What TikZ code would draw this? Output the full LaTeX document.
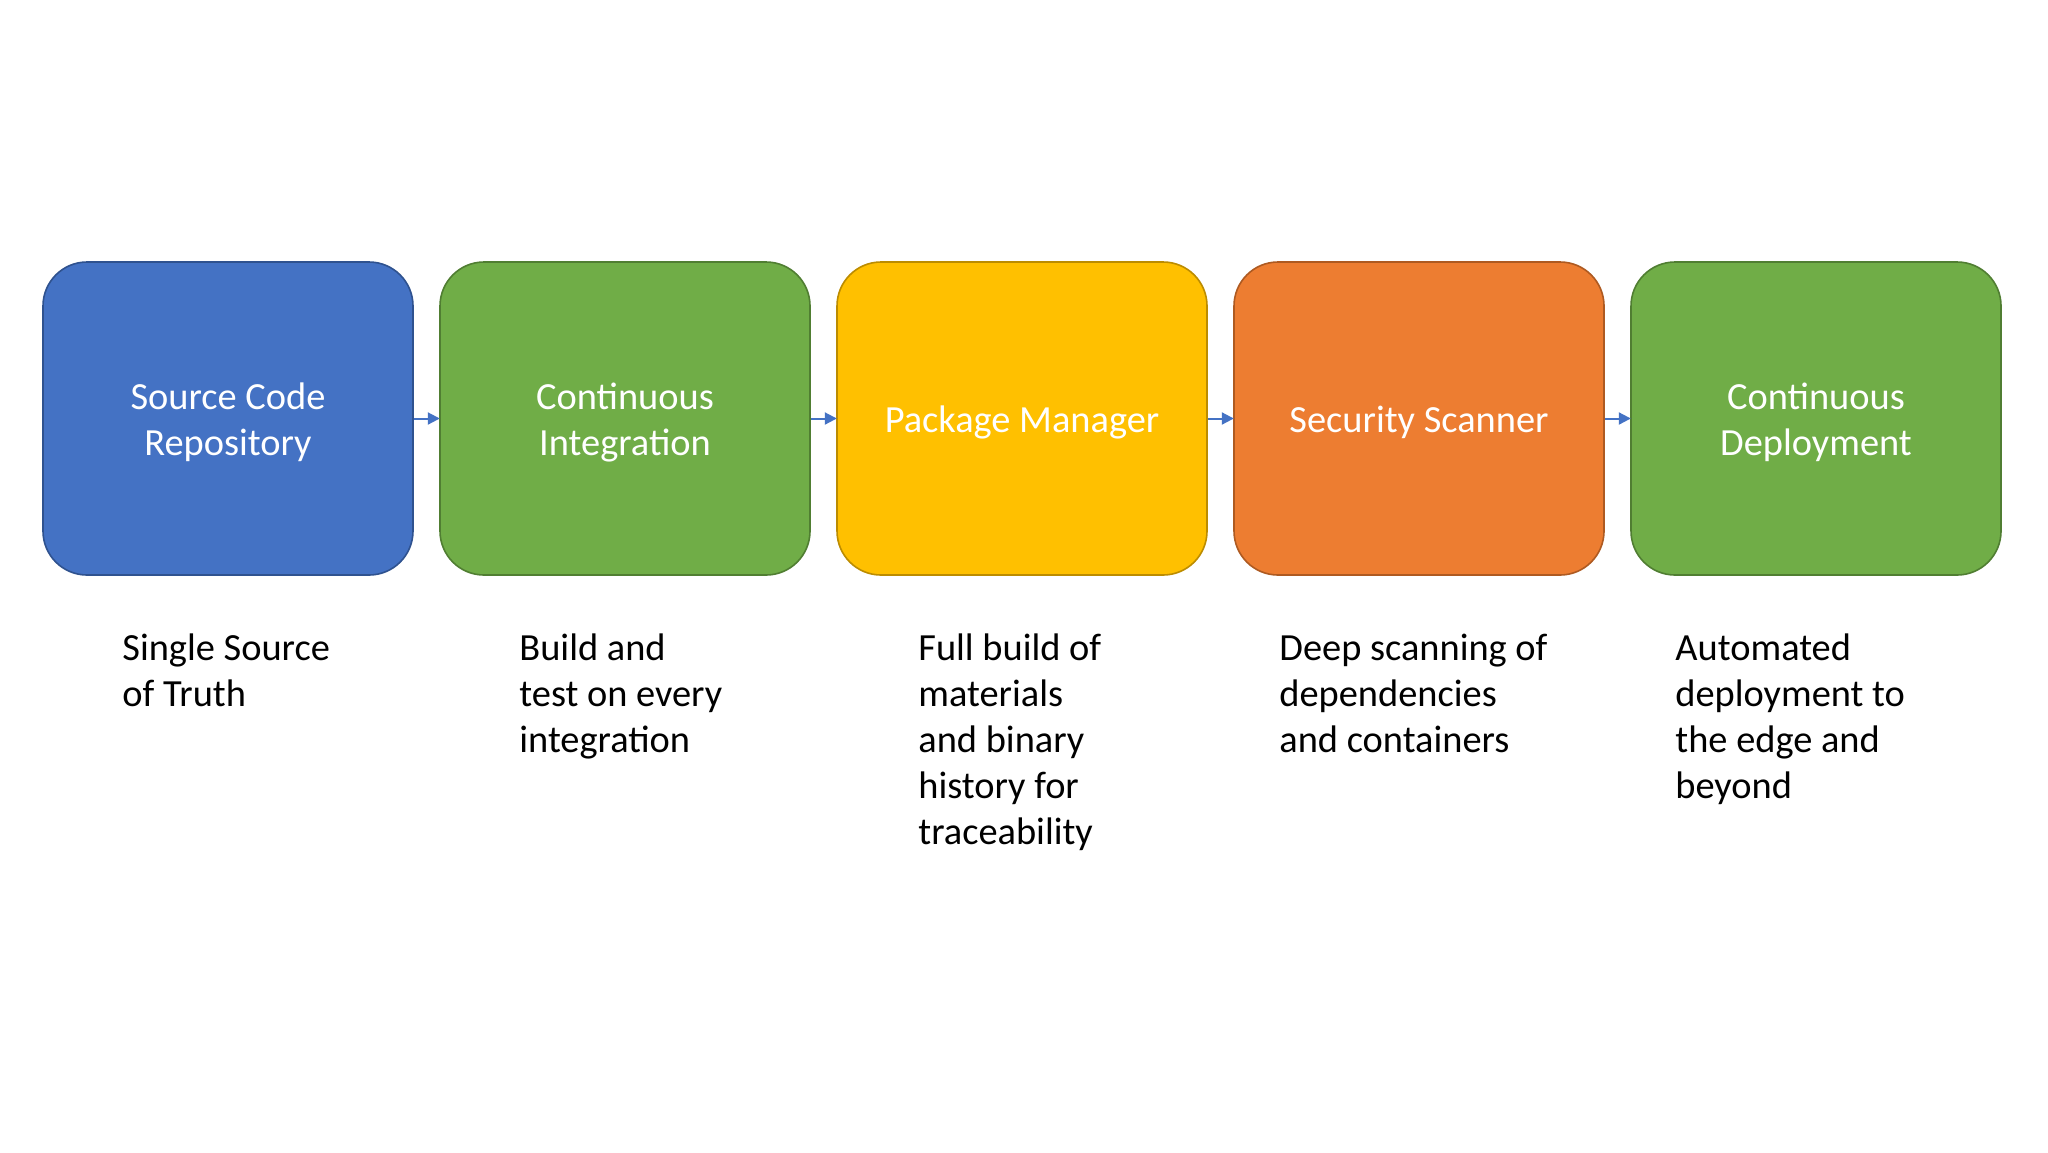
\documentclass[tikz,border=0pt]{standalone}
\usepackage{fontspec}
\setmainfont{Carlito}
\usetikzlibrary{arrows.meta}
\definecolor{cblue}{HTML}{4472C4}
\definecolor{cblueb}{HTML}{2F528F}
\definecolor{cgreen}{HTML}{70AD47}
\definecolor{cgreenb}{HTML}{507E32}
\definecolor{cyellow}{HTML}{FFC000}
\definecolor{cyellowb}{HTML}{BC8C00}
\definecolor{corange}{HTML}{ED7D31}
\definecolor{corangeb}{HTML}{AE5A21}
\tikzset{
  stagebox/.style={rounded corners=22pt, line width=0.8pt, minimum width=185pt, minimum height=156.5pt,
    inner sep=0pt},
  stagetext/.style={inner sep=0pt, align=center, text=white, yshift=-2pt, font=\fontsize{19.2}{23}\selectfont},
  desc/.style={anchor=north west, inner sep=0pt, align=left, font=\fontsize{19.2}{23}\selectfont},
  flow/.style={draw=cblue, line width=1pt, -{Triangle[length=6pt,width=6pt]}, shorten >=-0.3pt}
}
\begin{document}
\begin{tikzpicture}[x=0.5pt,y=-0.5pt]
\useasboundingbox[fill=white] (0,0) rectangle (2048,1152);
\node[stagebox, fill=cblue, draw=cblueb] (s1) at (228,418.5) {};
\node[stagebox, fill=cgreen, draw=cgreenb] (s2) at (625,418.5) {};
\node[stagebox, fill=cyellow, draw=cyellowb] (s3) at (1022,418.5) {};
\node[stagebox, fill=corange, draw=corangeb] (s4) at (1419,418.5) {};
\node[stagebox, fill=cgreen, draw=cgreenb] (s5) at (1816,418.5) {};
\node[stagetext] (t1) at (s1.center) {Source Code\\Repository};
\node[stagetext] (t2) at (s2.center) {Continuous\\Integration};
\node[stagetext] (t3) at (s3.center) {Package Manager};
\node[stagetext] (t4) at (s4.center) {Security Scanner};
\node[stagetext] (t5) at (s5.center) {Continuous\\Deployment};
\draw[flow] (s1.east) -- (s2.west);
\draw[flow] (s2.east) -- (s3.west);
\draw[flow] (s3.east) -- (s4.west);
\draw[flow] (s4.east) -- (s5.west);
\node[desc] (d1) at (122,628) {\strut Single Source\\of Truth};
\node[desc] (d2) at (519,628) {\strut Build and\\test on every\\integration};
\node[desc] (d3) at (918,628) {\strut Full build of\\materials\\and binary\\history for\\traceability};
\node[desc] (d4) at (1279,628) {\strut Deep scanning of\\dependencies\\and containers};
\node[desc] (d5) at (1675,628) {\strut Automated\\deployment to\\the edge and\\beyond};
\end{tikzpicture}
\end{document}
